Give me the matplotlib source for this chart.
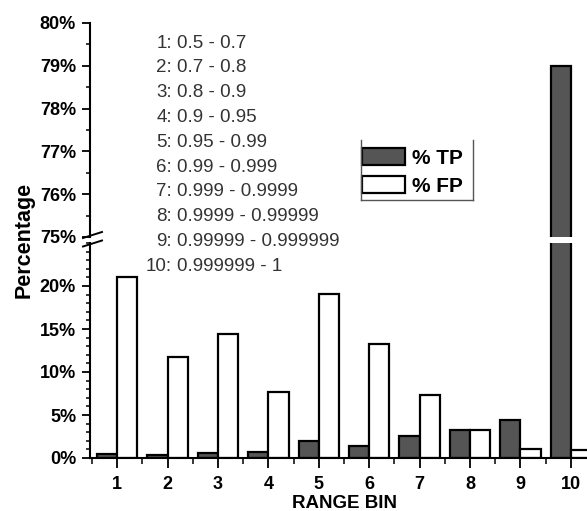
import matplotlib.pyplot as plt
import numpy as np
from matplotlib.ticker import MultipleLocator, FuncFormatter

plt.rcParams['font.family'] = ['Liberation Sans', 'DejaVu Sans']

# data
bins = np.arange(1, 11)
tp = [0.45, 0.4, 0.55, 0.65, 2.0, 1.45, 2.6, 3.2, 4.4, 79.0]
fp = [21.1, 11.7, 14.4, 7.7, 19.1, 13.3, 7.3, 3.3, 1.05, 0.95]
ranges = ['0.5 - 0.7', '0.7 - 0.8', '0.8 - 0.9', '0.9 - 0.95', '0.95 - 0.99',
          '0.99 - 0.999', '0.999 - 0.9999', '0.9999 - 0.99999',
          '0.99999 - 0.999999', '0.999999 - 1']

W, H = 587, 511
fig = plt.figure(figsize=(W / 100, H / 100), dpi=100)

left = 90 / W
width = 1 - left
ax_lo = fig.add_axes([left, 1 - 458 / H, width, 215 / H])
ax_hi = fig.add_axes([left, 1 - 237 / H, width, 214 / H])

tp_col = '#555555'
pct = FuncFormatter(lambda v, p: '%d%%' % round(v))

for ax in (ax_lo, ax_hi):
    ax.bar(bins - 0.2, tp, 0.4, color=tp_col, edgecolor='black', linewidth=1.6, label='% TP')
    ax.bar(bins + 0.2, fp, 0.4, color='white', edgecolor='black', linewidth=1.6, label='% FP')
    ax.set_xlim(0.46, 10.32)
    for s in ('top', 'right'):
        ax.spines[s].set_visible(False)
    ax.spines['left'].set_linewidth(1.5)
    ax.spines['bottom'].set_linewidth(1.5)
    ax.yaxis.set_major_formatter(pct)
    ax.tick_params(axis='y', which='major', length=6, width=1.3, pad=4, labelsize=13)
    ax.tick_params(axis='y', which='minor', length=3, width=1.1)

ax_lo.set_ylim(0, 25)
ax_lo.yaxis.set_minor_locator(MultipleLocator(1))
ax_lo.set_yticks([0, 5, 10, 15, 20])
ax_lo.set_xticks(bins)
ax_lo.xaxis.set_minor_locator(MultipleLocator(0.5))
ax_lo.tick_params(axis='x', which='major', length=7, width=1.3, pad=6, labelsize=13)
ax_lo.tick_params(axis='x', which='minor', length=4, width=1.1)
ax_lo.set_xticklabels([str(b) for b in bins], fontweight='bold')

ax_hi.set_ylim(75, 80)
ax_hi.yaxis.set_major_locator(MultipleLocator(1))
ax_hi.yaxis.set_minor_locator(MultipleLocator(0.5))
ax_hi.spines['bottom'].set_visible(False)
ax_hi.xaxis.set_visible(False)

for ax in (ax_lo, ax_hi):
    for lab in ax.get_yticklabels():
        lab.set_fontweight('bold')

# axis break marks
for y0 in (238, 246.5):
    fig.add_artist(plt.Line2D([83 / W, 102 / W], [1 - y0 / H, 1 - (y0 - 6) / H],
                              color='black', lw=1.4))

fig.text(24 / W, 1 - 240 / H, 'Percentage', rotation=90, ha='center', va='center',
         fontsize=15.5, fontweight='bold')
fig.text(345 / W, 1 - 503 / H, 'RANGE BIN', ha='center', va='center',
         fontsize=13.5, fontweight='bold')

# bin range key
for i, r in enumerate(ranges):
    y = 1 - (43 + i * 24.8) / H
    fig.text(172 / W, y, '%d:' % (i + 1), ha='right', va='center', fontsize=13.5, color='#333333')
    fig.text(177 / W, y, r, ha='left', va='center', fontsize=13.5, color='#333333')

leg = ax_hi.legend(loc='upper left', bbox_to_anchor=(362 / W, 1 - 148 / H),
                   bbox_transform=fig.transFigure, frameon=False,
                   prop={'weight': 'bold', 'size': 15},
                   handlelength=2.07, handleheight=0.87, labelspacing=0.42,
                   handletextpad=0.33, borderpad=0, borderaxespad=0)
for h in leg.legend_handles:
    h.set_linewidth(1.6)

# legend box drawn open at the top, as in the original
box = dict(color='#555555', lw=1.0)
fig.add_artist(plt.Line2D([361 / W, 361 / W], [1 - 140 / H, 1 - 200 / H], **box))
fig.add_artist(plt.Line2D([361 / W, 473 / W], [1 - 200 / H, 1 - 200 / H], **box))
fig.add_artist(plt.Line2D([473 / W, 473 / W], [1 - 140 / H, 1 - 200 / H], **box))

fig.savefig('out.png', dpi=100)
